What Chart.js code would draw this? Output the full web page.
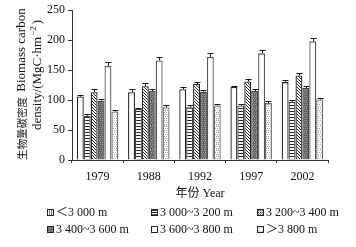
<!DOCTYPE html>
<html><head><meta charset="utf-8">
<script src="https://cdn.jsdelivr.net/npm/chart.js@4.4.0/dist/chart.umd.min.js"></script>
<style>
html,body{margin:0;padding:0;background:#fff;}
#wrap{position:relative;width:356px;height:247px;overflow:hidden;}
#c{position:absolute;left:0;top:0;}
.lg{position:absolute;font:12px "Liberation Serif","Noto Sans CJK SC",serif;color:#111;white-space:nowrap;line-height:14px;}
.lg canvas{width:7px;height:7px;display:inline-block;vertical-align:-0px;margin-right:2px;border:1px solid #222;box-sizing:border-box;}
</style></head>
<body><div id="wrap"><canvas id="c" width="356" height="210"></canvas><div id="legend"></div></div>
<script>
const years = ['1979', '1988', '1992', '1997', '2002'];
const seriesNames = ['＜3 000 m', '3 000~3 200 m', '3 200~3 400 m', '3 400~3 600 m', '3 600~3 800 m', '＞3 800 m'];
const xTitleText = '年份 Year';
const below3000 = [106, 113, 118, 122, 130];
const from3000to3200 = [74, 85, 88, 91, 97];
const from3200to3400 = [113, 123, 127, 131, 141];
const from3400to3600 = [99, 115, 114, 115, 120];
const from3600to3800 = [157, 166, 172, 178, 198];
const above3800 = [81, 88, 91, 95, 101];
const err1 = [2, 5, 4, 2, 3];
const err2 = [3, 2, 3, 3, 3];
const err3 = [5, 5, 4, 5, 5];
const err4 = [3, 3, 2, 4, 4];
const err5 = [6, 6, 6, 6, 6];
const err6 = [2, 3, 3, 3, 3];
const yTicks = [0, 50, 100, 150, 200, 250];

function makePattern(kind){
  const s = 6;
  const cv = document.createElement('canvas'); cv.width = s; cv.height = s;
  const g = cv.getContext('2d');
  g.fillStyle = '#fff'; g.fillRect(0,0,s,s);
  g.fillStyle = '#222';
  if (kind === 'horiz'){ for (let y=0;y<s;y+=3) g.fillRect(0,y,s,1); }
  if (kind === 'diag'){
    for (let i=0;i<s;i++){ g.fillRect(i,i,1,1); g.fillRect(i,(i+3)%s,1,1); }
  }
  if (kind === 'dark'){
    g.fillStyle = '#666'; g.fillRect(0,0,s,s);
    g.fillStyle = '#999';
    for (let y=0;y<s;y+=2) for (let x=(y/2)%2;x<s;x+=2) g.fillRect(x,y,1,1);
  }
  if (kind === 'dots'){
    g.fillStyle = '#aaa';
    for (let y=0;y<s;y+=2) for (let x=(y/2)%2;x<s;x+=2) g.fillRect(x,y,1,1);
  }
  return cv;
}
const kinds = ['vert','horiz','diag','dark','white','dots'];
const ctxMain = document.getElementById('c').getContext('2d');
const fills = kinds.map(k => ctxMain.createPattern(makePattern(k), 'repeat'));
const borderCols = ['#222','#444','#222','#444','#555','#666'];

const values = [below3000, from3000to3200, from3200to3400, from3400to3600, from3600to3800, above3800];
const errs = [err1, err2, err3, err4, err5, err6];

const datasets = values.map((v,i) => ({
  label: seriesNames[i], data: v, errors: errs[i],
  backgroundColor: fills[i], borderColor: borderCols[i], borderWidth: 1.3,
  categoryPercentage: 0.81, barPercentage: 1.0
}));

const SERIF = '"Liberation Serif", "Noto Sans CJK SC", serif';

const errorBars = {
  id: 'errorBars',
  afterDatasetsDraw(chart){
    const c = chart.ctx, ys = chart.scales.y;
    c.save(); c.strokeStyle = '#111'; c.lineWidth = 1;
    chart.data.datasets.forEach((ds, di) => {
      const meta = chart.getDatasetMeta(di);
      meta.data.forEach((el, j) => {
        const v = ds.data[j], e = ds.errors[j];
        const yt = Math.round(ys.getPixelForValue(v + e)) + 0.5;
        const yb = ys.getPixelForValue(v);
        const x = Math.round(el.x) + 0.5;
        c.beginPath(); c.moveTo(x, yb); c.lineTo(x, yt);
        c.moveTo(x - 3, yt); c.lineTo(x + 3, yt); c.stroke();
      });
    });
    c.restore();
  }
};

const titles = {
  id: 'titles',
  afterDraw(chart){
    const c = chart.ctx, ca = chart.chartArea;
    c.save(); c.fillStyle = '#111';
    c.textBaseline = 'middle'; c.textAlign = 'center';
    c.font = '12px ' + SERIF;
    c.fillText(xTitleText, (ca.left + ca.right) / 2, 194);
    c.rotate(-Math.PI/2);
    c.textAlign = 'left';
    c.font = '10.5px "Noto Sans CJK SC", sans-serif';
    const cn = '生物量碳密度';
    c.fillText(cn, -160, 22);
    const w1 = c.measureText(cn).width;
    c.font = '13px ' + SERIF;
    c.fillText(' Biomass carbon', -160 + w1 + 2, 22);
    const t2 = 'density/(MgC·hm';
    c.fillText(t2, -130, 38);
    const w2 = c.measureText(t2).width;
    c.font = '9px ' + SERIF;
    c.fillText('−2', -130 + w2 + 1, 34);
    c.font = '13px ' + SERIF;
    c.fillText(')', -130 + w2 + 1 + c.measureText('−2').width*0.7 + 2, 38);
    c.restore();
  }
};

new Chart(ctxMain, {
  type: 'bar',
  data: { labels: years, datasets },
  options: {
    responsive: false, animation: false,
    layout: { padding: { top: 6, right: 28, left: 0, bottom: 0 } },
    plugins: { legend: { display: false }, tooltip: { enabled: false } },
    scales: {
      x: {
        grid: { drawOnChartArea: false, drawTicks: true, tickLength: 3, color: '#333' },
        border: { color: '#333', width: 1 },
        ticks: { color: '#111', font: { family: SERIF, size: 12 }, padding: 7 },
        title: { display: false },
        afterFit(s){ s.height = 50; }
      },
      y: {
        min: 0, max: 250,
        afterBuildTicks(s){ s.ticks = yTicks.map(v => ({ value: v })); },
        grid: { drawOnChartArea: false, drawTicks: true, tickLength: 4, color: '#333' },
        border: { color: '#333', width: 1 },
        ticks: { color: '#111', font: { family: SERIF, size: 12 }, padding: 3 },
        afterFit(s){ s.width = 72; }
      }
    }
  },
  plugins: [errorBars, titles]
});

const legPos = [[47,205],[151,205],[257,205],[47,222],[151,222],[257,222]];
const leg = document.getElementById('legend');
seriesNames.forEach((n,i) => {
  const d = document.createElement('div'); d.className = 'lg';
  d.style.left = legPos[i][0] + 'px'; d.style.top = legPos[i][1] + 'px';
  const ic = document.createElement('canvas'); ic.width = 7; ic.height = 7;
  const g = ic.getContext('2d');
  g.fillStyle = g.createPattern(makePattern(kinds[i]), 'repeat'); g.fillRect(0,0,7,7);
  if (i === 0){ g.fillStyle = '#222'; g.fillRect(2,0,1,7); g.fillRect(4,0,1,7); }
  d.appendChild(ic);
  d.appendChild(document.createTextNode(n));
  leg.appendChild(d);
});
</script></body></html>
